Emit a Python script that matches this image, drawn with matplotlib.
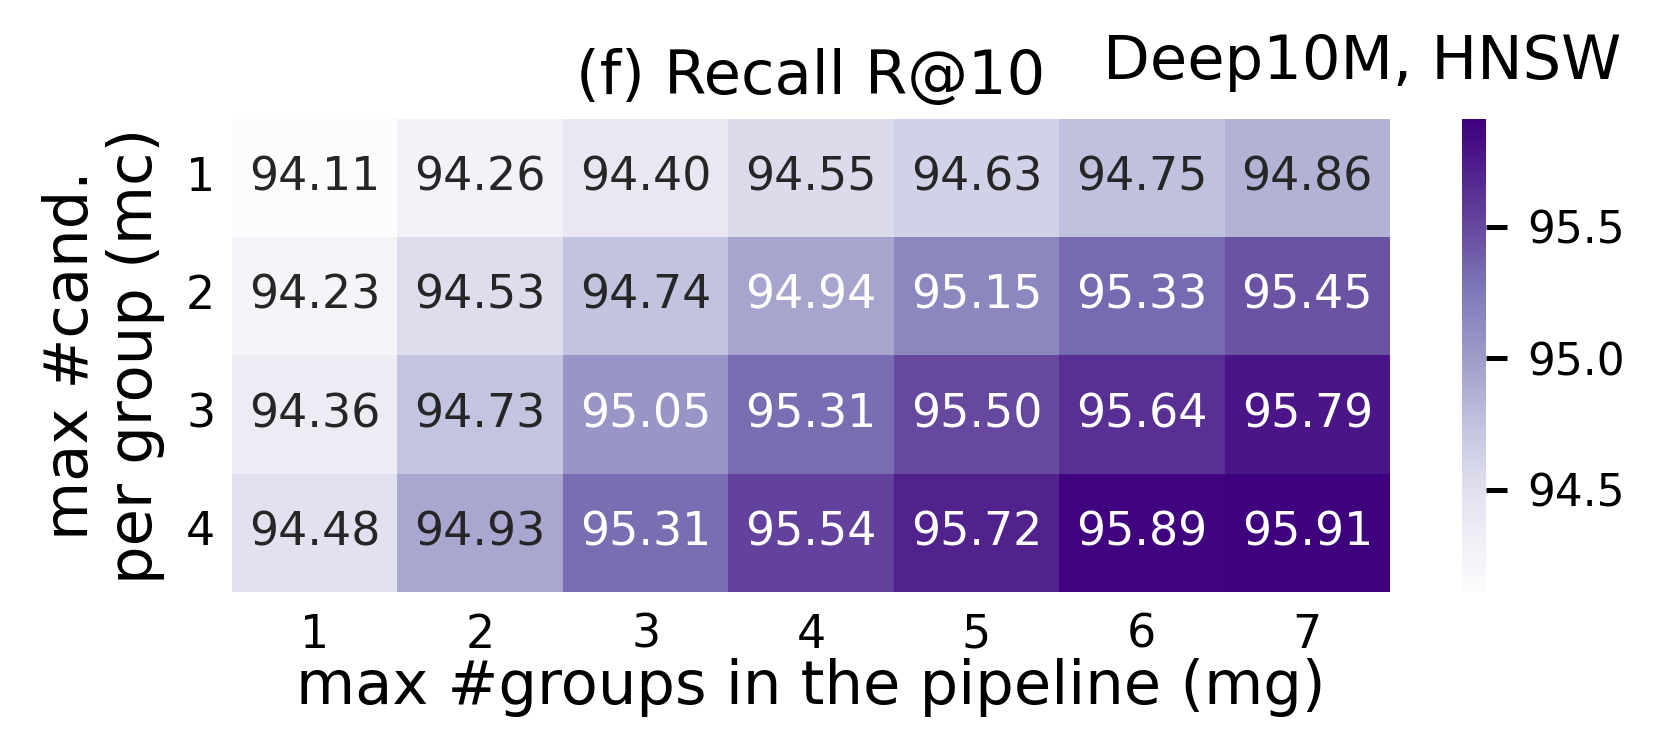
import numpy as np
import matplotlib
matplotlib.use("Agg")
import matplotlib.pyplot as plt
import seaborn as sns

mg_labels = ["1", "2", "3", "4", "5", "6", "7"]
mc_labels = ["1", "2", "3", "4"]
row_mc1 = [94.11, 94.26, 94.40, 94.55, 94.63, 94.75, 94.86]
row_mc2 = [94.23, 94.53, 94.74, 94.94, 95.15, 95.33, 95.45]
row_mc3 = [94.36, 94.73, 95.05, 95.31, 95.50, 95.64, 95.79]
row_mc4 = [94.48, 94.93, 95.31, 95.54, 95.72, 95.89, 95.91]

data = np.array([row_mc1, row_mc2, row_mc3, row_mc4])

W, H = 1658, 747
fig = plt.figure(figsize=(W/300, H/300), dpi=300)
ax = fig.add_axes([232/W, 1-592/H, (1390-232)/W, (592-119)/H])
cax = fig.add_axes([1462/W, 1-592/H, (1486-1462)/W, (592-119)/H])

sns.heatmap(data, ax=ax, cbar_ax=cax, cmap="Purples", annot=True, fmt=".2f",
            annot_kws={"fontsize": 11}, xticklabels=mg_labels, yticklabels=mc_labels)
# annotation text colour (dark on light cells, white on dark cells)
for t in ax.texts:
    v = float(t.get_text())
    t.set_color(".15" if v <= 94.935 else "w")

ax.tick_params(axis="x", length=0, labelsize=11, pad=5)
ax.tick_params(axis="y", length=0, labelsize=11, pad=4)
ax.set_yticklabels(mc_labels, rotation=0)
ax.set_xlabel("max #groups in the pipeline (mg)", fontsize=14.6, labelpad=0)
ax.set_ylabel("max #cand.\nper group (mc)", fontsize=14.6, labelpad=5, linespacing=1.12)
ax.set_title("(f) Recall R@10", fontsize=14.6, pad=6)
cax.tick_params(labelsize=10.5, length=5, width=1.2, pad=5)
cax.set_yticks([94.5, 95.0, 95.5])
cax.set_yticklabels(["94.5", "95.0", "95.5"])
fig.text(1621/W, 1-79/H, "Deep10M, HNSW", fontsize=14.6, ha="right", va="baseline")

fig.savefig("out.png", dpi=300)
